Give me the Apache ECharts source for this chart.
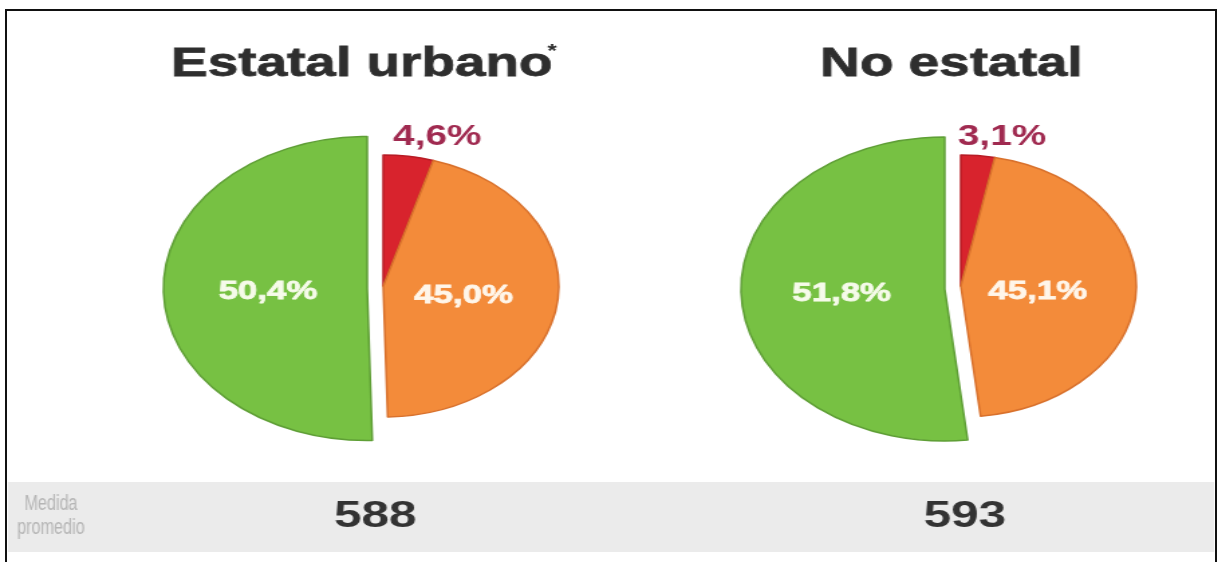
<!DOCTYPE html>
<html><head><meta charset="utf-8">
<script src="https://cdn.jsdelivr.net/npm/echarts@6/dist/echarts.min.js"></script>
<style>
html,body{margin:0;padding:0;background:#fff;overflow:hidden;width:1219px;height:562px}
#wrap{position:absolute;left:0;top:0;width:910px;height:562px;transform:scaleX(1.34);transform-origin:0 0}
#chart{width:910px;height:562px}
#frame{position:absolute;left:5px;top:9px;width:1208px;height:600px;border:2px solid #111;border-bottom:none;pointer-events:none}
</style></head><body>
<div id="wrap"><div id="chart"></div></div>
<div id="frame"></div>
<script>
// ---- data ----
const categories = ['Bajo', 'Medio', 'Alto'];          // red, orange, green
const panelTitles = ['Estatal urbano', 'No estatal'];
const estatalUrbano = [4.6, 45.0, 50.4];
const noEstatal = [3.1, 45.1, 51.8];
const medidaPromedio = [588, 593];
const medidaLabel = ['Medida', 'promedio'];

// ---- styles ----
const FILL = ['#d8232d', '#f38b3a', '#77c143'];
const EDGE = ['#b81c25', '#d9712c', '#5f9f36'];
const NONE = 'rgba(0,0,0,0)';
const FONT = "'Liberation Sans', Arial, sans-serif";
const fmt = v => v.toFixed(1).replace('.', ',') + '%';

// label nudges per slice [red, orange, green]
const panels = [
  { values: estatalUrbano, big: [274, 288.5], small: [286, 286],
    shift: [[-18, -9], [-8, 1], [5, 2]] },
  { values: noEstatal,     big: [705, 289],   small: [717, 286],
    shift: [[-21, -9], [-11, 3], [2, 0]] }
];

const insideLabel = (color) => ({
  show: true, position: 'inside', formatter: d => fmt(d.value),
  color, fontSize: 26, fontWeight: 'bold', fontFamily: FONT,
  textBorderColor: color, textBorderWidth: 0.8
});

const series = [];
panels.forEach(p => {
  const lay = params => ({ dx: p.shift[params.dataIndex][0], dy: p.shift[params.dataIndex][1] });
  // large green slice
  series.push({
    type: 'pie', radius: 152, center: p.big, startAngle: 90, clockwise: true,
    silent: true, animation: false, labelLine: { show: false }, labelLayout: lay,
    data: p.values.map((v, i) => ({
      name: categories[i], value: v,
      itemStyle: { color: i === 2 ? FILL[i] : NONE, borderColor: i === 2 ? EDGE[i] : NONE, borderWidth: 1.5 },
      label: i === 2 ? insideLabel('#f6fbea') : { show: false }
    }))
  });
  // smaller red + orange slices
  series.push({
    type: 'pie', radius: 131, center: p.small, startAngle: 90, clockwise: true,
    silent: true, animation: false,
    labelLine: { show: false, length: 10, length2: 0 }, labelLayout: lay,
    data: p.values.map((v, i) => ({
      name: categories[i], value: v,
      itemStyle: { color: i < 2 ? FILL[i] : NONE, borderColor: i < 2 ? EDGE[i] : NONE, borderWidth: 1.5 },
      label: i === 0
        ? { show: true, position: 'outside', formatter: d => fmt(d.value),
            color: '#a02a50', fontSize: 29, fontWeight: 'bold', fontFamily: FONT }
        : (i === 1 ? insideLabel('#fff6ea') : { show: false })
    }))
  });
});

const titleX = [270, 710];
const narrow = { fill: '#b5b5b5', fontSize: 22, fontFamily: FONT, align: 'center', verticalAlign: 'middle' };
const graphic = [
  { type: 'rect', shape: { x: 6, y: 482, width: 900, height: 70 }, style: { fill: '#ebebeb' }, silent: true },
  { type: 'text', x: 38, y: 504, scaleX: 0.55, silent: true, style: Object.assign({ text: medidaLabel[0] }, narrow) },
  { type: 'text', x: 38, y: 528, scaleX: 0.55, silent: true, style: Object.assign({ text: medidaLabel[1] }, narrow) },
  { type: 'text', x: 412, y: 52, silent: true,
    style: { text: '*', fill: '#2e2e2e', fontSize: 18, fontWeight: 'bold', fontFamily: FONT, align: 'center', verticalAlign: 'middle' } }
];
panelTitles.forEach((t, i) => {
  graphic.push({ type: 'text', x: titleX[i], y: 65, silent: true,
    style: { text: t, fill: '#2e2e2e', fontSize: 41, fontWeight: 'bold', fontFamily: FONT, align: 'center', verticalAlign: 'middle',
             stroke: '#2e2e2e', lineWidth: 0.8 } });
  graphic.push({ type: 'text', x: titleX[i] + 10, y: 517, silent: true,
    style: { text: String(medidaPromedio[i]), fill: '#333333', fontSize: 37, fontWeight: 'bold', fontFamily: FONT, align: 'center', verticalAlign: 'middle' } });
});

const chart = echarts.init(document.getElementById('chart'), null, { renderer: 'canvas' });
chart.setOption({ backgroundColor: '#ffffff', animation: false, series, graphic });
</script>
</body></html>
